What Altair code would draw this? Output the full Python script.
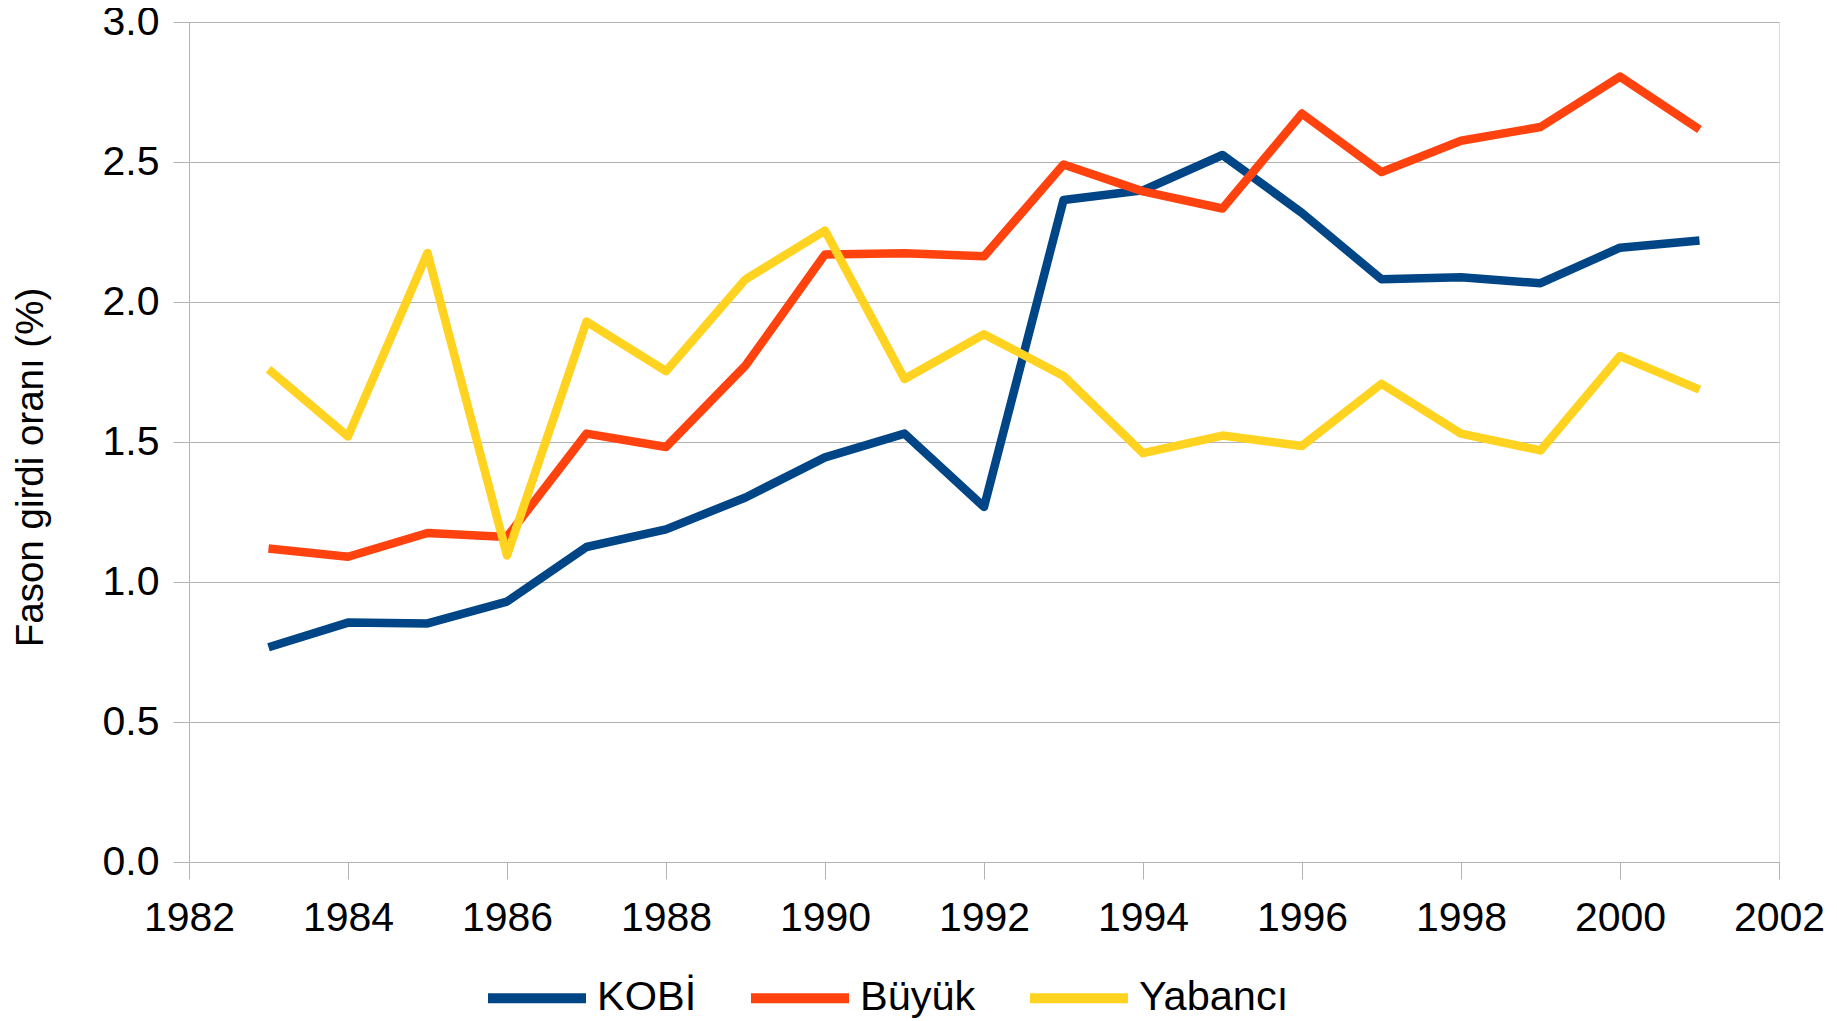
import altair as alt
import pandas as pd

years = list(range(1983, 2002))
kobi = [0.767, 0.855, 0.852, 0.93, 1.125, 1.188, 1.302, 1.445, 1.530, 1.268,
        2.364, 2.399, 2.525, 2.318, 2.081, 2.088, 2.067, 2.194, 2.220]
buyuk = [1.12, 1.09, 1.175, 1.161, 1.53, 1.482, 1.773, 2.17, 2.174, 2.163,
         2.491, 2.395, 2.334, 2.673, 2.464, 2.576, 2.625, 2.805, 2.616]
yabanci = [1.76, 1.52, 2.175, 1.095, 1.93, 1.753, 2.081, 2.255, 1.725, 1.885,
           1.736, 1.46, 1.523, 1.486, 1.708, 1.530, 1.47, 1.807, 1.687]

series_names = ["KOBİ", "Büyük", "Yabancı"]
series_colors = ["#004586", "#ff420e", "#ffd320"]
x_ticks = list(range(1982, 2003, 2))
y_ticks = [0.0, 0.5, 1.0, 1.5, 2.0, 2.5, 3.0]

rows = []
for name, vals in zip(series_names, [kobi, buyuk, yabanci]):
    for yr, v in zip(years, vals):
        rows.append({"Yıl": yr, "Değer": v, "Seri": name})
df = pd.DataFrame(rows)

FONT = "Liberation Sans"
GRID = "#b3b3b3"

chart = alt.Chart(df).mark_line(
    strokeWidth=8.5, strokeCap="butt", strokeJoin="round"
).encode(
    x=alt.X("Yıl:Q",
            scale=alt.Scale(domain=[1982, 2002], nice=False, zero=False),
            axis=alt.Axis(values=x_ticks, format="d", title=None, grid=False,
                          labelFontSize=41, labelFont=FONT, labelColor="#000000",
                          tickSize=17, tickColor=GRID, domainColor=GRID,
                          labelPadding=19, labelFlush=False, labelOverlap=False)),
    y=alt.Y("Değer:Q",
            scale=alt.Scale(domain=[0, 3], nice=False),
            axis=alt.Axis(values=y_ticks, format=".1f", title="Fason girdi oranı (%)",
                          grid=True, gridColor=GRID, gridWidth=1,
                          labelFontSize=41, labelFont=FONT, labelColor="#000000",
                          tickSize=16, tickColor=GRID, domainColor=GRID,
                          labelPadding=14, labelFlush=False, labelOverlap=False,
                          titleFont=FONT, titleFontSize=38.5, titleFontWeight="normal",
                          titleColor="#000000", titleX=-159, titleY=445,
                          titleAngle=270, titleAlign="center", titleBaseline="middle")),
    color=alt.Color("Seri:N",
                    scale=alt.Scale(domain=series_names, range=series_colors),
                    legend=alt.Legend(title=None, orient="none", direction="horizontal",
                                      legendX=294, legendY=922,
                                      symbolType="stroke", symbolStrokeWidth=10,
                                      symbolSize=9604, labelFontSize=41.5, labelFont=FONT,
                                      labelColor="#000000", labelOffset=6,
                                      columnPadding=34, labelLimit=400, padding=0)),
).properties(
    width=1590, height=840,
    autosize=alt.AutoSizeParams(type="none"),
    padding={"left": 181, "top": 14, "right": 50, "bottom": 162},
).configure_view(
    stroke=GRID, strokeWidth=1
).configure(background="#ffffff")

chart.save("out.html", embed_options={"renderer": "svg", "actions": False})
